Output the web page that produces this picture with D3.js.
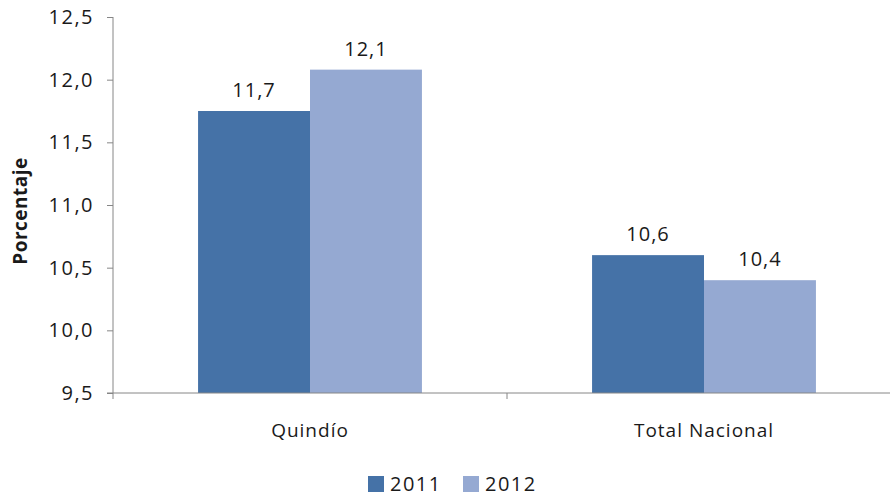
<!DOCTYPE html>
<html>
<head>
<meta charset="utf-8">
<script src="https://cdn.jsdelivr.net/npm/d3@7"></script>
<style>
  body { margin: 0; background: #fff; }
  text { font-family: "Open Sans", sans-serif; fill: #1a1a1a; }
</style>
</head>
<body>
<div id="chart"></div>
<script>
  // data
  const categories = ["Quindío", "Total Nacional"];
  const years = ["2011", "2012"];
  const values2011 = [11.75, 10.6];
  const values2012 = [12.08, 10.4];
  const labels2011 = ["11,7", "10,6"];
  const labels2012 = ["12,1", "10,4"];
  const yTicks = [9.5, 10.0, 10.5, 11.0, 11.5, 12.0, 12.5];
  const colors = ["#4572a7", "#95a9d2"];

  const width = 890, height = 497;
  const plotLeft = 113, plotRight = 901, plotTop = 17, plotBottom = 393;

  const svg = d3.select("#chart").append("svg")
    .attr("width", width)
    .attr("height", height);

  const x = d3.scaleBand().domain(categories).range([plotLeft, plotRight]);
  const inner = d3.scaleBand().domain(years).range([0, x.bandwidth()])
    .paddingInner(0).paddingOuter(0.76);
  const y = d3.scaleLinear().domain([9.5, 12.5]).range([plotBottom, plotTop]);

  const fmt = v => d3.format(".1f")(v).replace(".", ",");

  // y axis
  const yAxis = svg.append("g")
    .attr("transform", `translate(${plotLeft},0)`)
    .call(d3.axisLeft(y).tickValues(yTicks).tickFormat(fmt).tickSize(6).tickPadding(13));
  yAxis.select(".domain").attr("stroke", "#868686").attr("d", `M0,${plotTop}V${plotBottom}`);
  yAxis.selectAll(".tick line").attr("stroke", "#868686");
  yAxis.selectAll(".tick text").style("font-size", "20px").attr("letter-spacing", "1.5px");

  // bars
  const series = [values2011, values2012];
  const labels = [labels2011, labels2012];
  years.forEach((yr, si) => {
    const g = svg.append("g");
    g.selectAll("rect").data(categories).join("rect")
      .attr("x", c => x(c) + inner(yr))
      .attr("y", (c, i) => y(series[si][i]))
      .attr("width", inner.bandwidth())
      .attr("height", (c, i) => plotBottom - y(series[si][i]))
      .attr("fill", colors[si]);
    g.selectAll("text").data(categories).join("text")
      .attr("x", c => x(c) + inner(yr) + inner.bandwidth() / 2)
      .attr("y", (c, i) => y(series[si][i]) - 14)
      .attr("text-anchor", "middle")
      .attr("letter-spacing", "1px")
      .style("font-size", "20px")
      .text((c, i) => labels[si][i]);
  });

  // x axis
  const xAxis = svg.append("g")
    .attr("transform", `translate(0,${plotBottom})`);
  xAxis.append("line")
    .attr("x1", plotLeft - 6).attr("x2", plotRight)
    .attr("stroke", "#868686");
  const ends = [plotLeft, ...categories.map(c => x(c) + x.bandwidth())];
  xAxis.selectAll(".tk").data(ends).join("line")
    .attr("x1", d => d).attr("x2", d => d)
    .attr("y1", 0).attr("y2", 6)
    .attr("stroke", "#868686");
  xAxis.selectAll(".lbl").data(categories).join("text")
    .attr("x", c => x(c) + x.bandwidth() / 2)
    .attr("y", 44)
    .attr("text-anchor", "middle")
    .attr("letter-spacing", "1px")
    .style("font-size", "19px")
    .text(c => c);

  // y title
  svg.append("text")
    .attr("transform", `translate(27,211) rotate(-90)`)
    .attr("text-anchor", "middle")
    .attr("letter-spacing", "0.5px")
    .style("font-size", "19px")
    .style("font-weight", "bold")
    .text("Porcentaje");

  // legend
  const legendX = [368, 463];
  const legend = svg.append("g");
  years.forEach((yr, i) => {
    legend.append("rect")
      .attr("x", legendX[i]).attr("y", 476)
      .attr("width", 16).attr("height", 16)
      .attr("fill", colors[i]);
    legend.append("text")
      .attr("x", legendX[i] + 22).attr("y", 491)
      .attr("letter-spacing", "1.5px")
      .style("font-size", "20px")
      .text(yr);
  });
</script>
</body>
</html>
